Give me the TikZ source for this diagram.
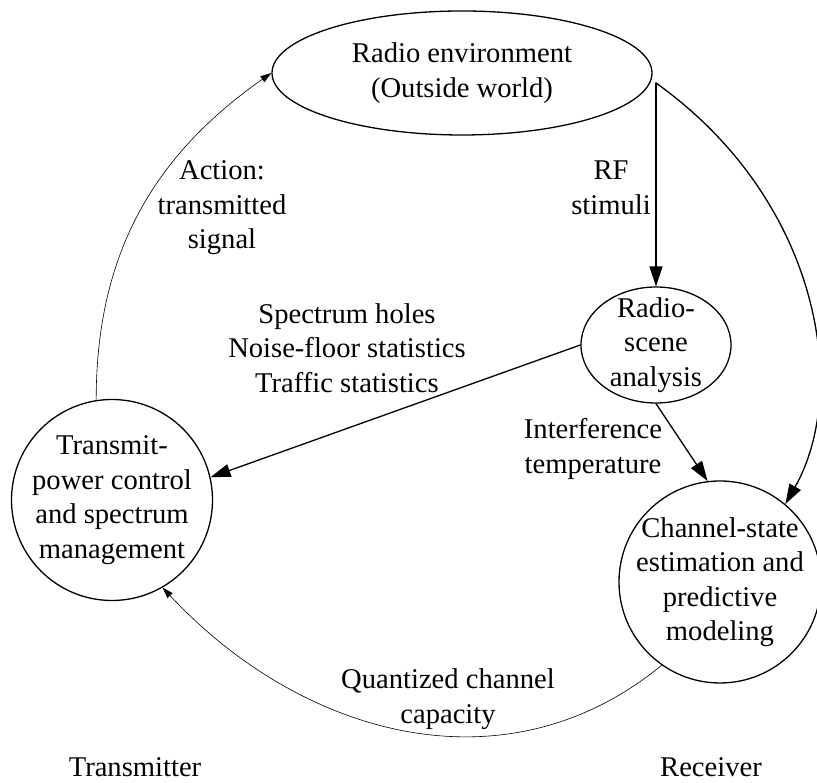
\documentclass[tikz,border=0pt]{standalone}
\usepackage{fontspec}
\setmainfont{Liberation Serif}
\usepackage{tikz}
\usetikzlibrary{shapes.geometric, arrows.meta}

\begin{document}
\begin{tikzpicture}[x=1pt, y=1pt, line join=round, line cap=round,
    txt/.style={font=\fontsize{28.6}{34.5}\selectfont, align=center, inner sep=0pt},
    blob/.style={txt, draw, line width=1.3pt, inner sep=-20pt},
    bigarrow/.style={-{Triangle[length=20pt, width=13pt]}, line width=1.3pt},
    thinarrow/.style={-{Triangle[length=11pt, width=7pt]}, line width=0.6pt}]

  \useasboundingbox (0,0) rectangle (817,783);

  % the four blocks
  \node[blob, ellipse, minimum width=380, minimum height=124] (env) at (462,710) {Radio environment\\(Outside world)};
  \node[blob, ellipse, minimum width=150, minimum height=116] (scene) at (656,438) {Radio-\\scene\\analysis};
  \node[blob, circle, minimum size=201] (tx) at (112,283) {Transmit-\\power control\\and spectrum\\management};
  \node[blob, circle, minimum size=202] (chan) at (720,201) {Channel-state\\estimation and\\predictive\\modeling};
  \coordinate (rf) at (656,700);

  % connectors
  \draw[bigarrow] (rf) -- (scene.north);
  \draw[bigarrow] (rf) .. controls (820,583) and (850,393) .. (chan.50);
  \draw[bigarrow] (scene.west) -- (tx.13);
  \draw[bigarrow] (scene.south) -- (chan.97);
  \draw[thinarrow] (tx.99) to[out=90, in=-145] (env.west);
  \draw[thinarrow] (chan.235) .. controls (505,-11) and (301,47) .. (tx.300);

  % labels
  \node[txt] (action) at (222,575) {Action:\\transmitted\\signal};
  \node[txt] (stimuli) at (611,595) {RF\\stimuli};
  \node[txt] (holes) at (347,435) {Spectrum holes\\Noise-floor statistics\\Traffic statistics};
  \node[txt] (interf) at (593,334) {Interference\\temperature};
  \node[txt] (capacity) at (448,84) {Quantized channel\\capacity};
  \node[txt] (transmitter) at (135,16) {Transmitter};
  \node[txt] (receiver) at (711,16) {Receiver};

\end{tikzpicture}
\end{document}
